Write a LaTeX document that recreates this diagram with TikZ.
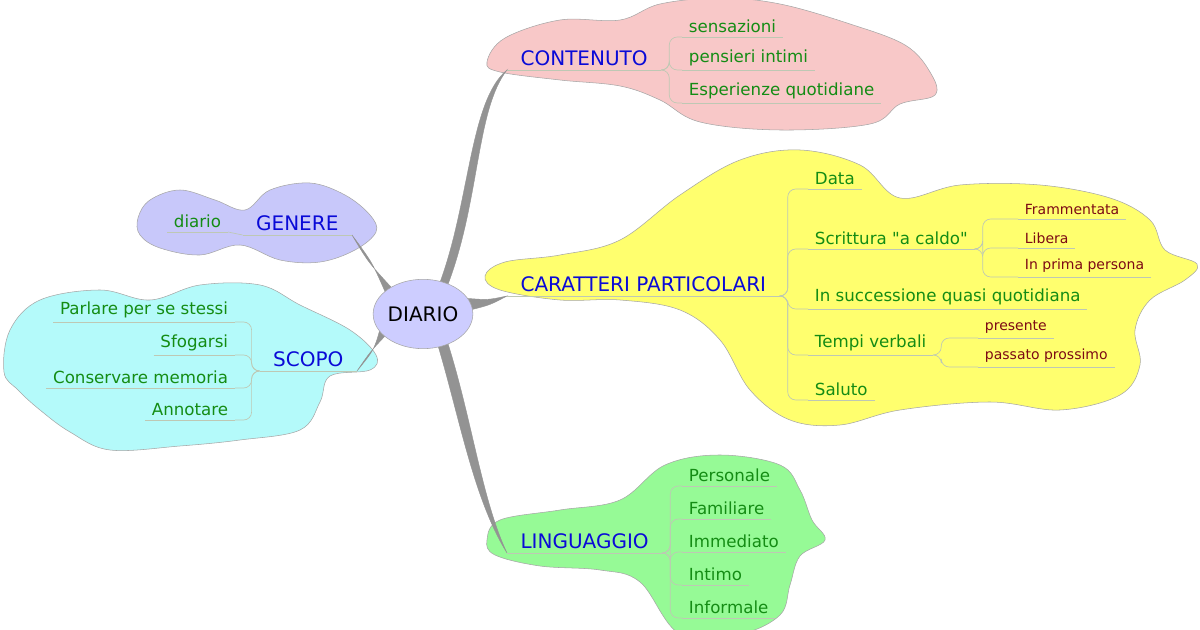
\documentclass[tikz,border=0pt]{standalone}
\usepackage{fontspec}
\setmainfont{DejaVu Sans}
\usetikzlibrary{positioning}
\usetikzlibrary{calc}
\usetikzlibrary{shapes.geometric}
\definecolor{mainblue}{RGB}{10,10,215}
\definecolor{subgreen}{RGB}{20,140,20}
\definecolor{subred}{RGB}{125,10,20}
\definecolor{ulgray}{RGB}{190,200,180}
\tikzset{
  main/.style={anchor=south west, inner xsep=10pt, inner ysep=3pt, text=mainblue, font=\fontsize{15}{17}\selectfont},
  sub/.style={anchor=south west, inner xsep=5pt, inner ysep=3pt, text=subgreen, font=\fontsize{12.5}{15}\selectfont},
  subl/.style={sub, anchor=south east},
  subsub/.style={anchor=south west, inner xsep=5pt, inner ysep=3pt, text=subred, font=\fontsize{10.5}{13}\selectfont},
  uline/.style={draw=ulgray, line width=0.5pt},
  branch/.style={fill=gray!85, draw=gray!85, line width=0.3pt},
  cloud/.style={draw=gray!70, line width=0.4pt},
  centre/.style={ellipse, inner sep=0pt, minimum width=72pt, minimum height=52pt, font=\fontsize{15}{17}\selectfont}
}
\begin{document}
\begin{tikzpicture}[x=0.75pt,y=-0.75pt]
	\useasboundingbox (0,0) rectangle (1200,630);
	
	% clouds
	\draw[cloud, fill={rgb,255:red,248;green,200;blue,200}] plot[smooth cycle, tension=0.6] coordinates {
		(487,62) (505,38) (560,20) (620,20) (660,4) (720,-2) (780,4) (850,24) (905,45) (930,72)
		(935,95) (900,104) (870,124) (780,130) (700,122) (660,100) (620,86) (560,80) (500,72)};
	\draw[cloud, fill={rgb,255:red,255;green,255;blue,110}] plot[smooth cycle, tension=0.6] coordinates {
		(485,276) (505,262) (560,255) (620,240) (680,195) (740,160) (800,150) (860,165) (900,198)
		(960,185) (1040,185) (1110,198) (1150,220) (1165,250) (1197,264) (1185,280) (1150,300)
		(1135,330) (1140,365) (1120,395) (1060,410) (990,402) (900,410) (840,425) (790,420)
		(750,390) (720,340) (680,310) (620,300) (560,300) (500,290)};
	\draw[cloud, fill={rgb,255:red,150;green,250;blue,150}] plot[smooth cycle, tension=0.6] coordinates {
		(487,540) (500,520) (560,510) (620,500) (665,465) (720,455) (780,465) (800,490)
		(812,520) (825,540) (800,556) (790,585) (780,615) (740,634) (680,634) (640,582)
		(600,570) (540,566) (495,555)};
	\draw[cloud, fill={rgb,255:red,200;green,200;blue,250}] plot[smooth cycle, tension=0.6] coordinates {
		(138,218) (150,200) (180,190) (215,200) (245,210) (270,190) (310,183) (345,195)
		(370,215) (376,232) (355,250) (320,262) (280,260) (240,245) (200,255) (160,248) (140,235)};
	\draw[cloud, fill={rgb,255:red,180;green,250;blue,250}] plot[smooth cycle, tension=0.6] coordinates {
		(4,372) (10,330) (40,300) (100,290) (150,300) (200,285) (260,285) (300,305) (350,330)
		(376,355) (370,370) (330,376) (320,402) (300,430) (240,440) (180,446) (110,450)
		(70,432) (40,410) (18,390)};
	
	% center and main topics
	\node[centre] (diario) at (423,314) {};
	\node[main] (contenuto) at (507,70) {CONTENUTO};
	\node[main] (caratteri) at (507,296) {CARATTERI PARTICOLARI};
	\node[main] (linguaggio) at (507,553) {LINGUAGGIO};
	\node[main, anchor=south east] (genere) at (352,235) {GENERE};
	\node[main, anchor=south east] (scopo) at (357,371) {SCOPO};
	
	% branches
	\fill[branch] (diario.62) .. controls (470,200) and (470,100) .. (contenuto.south west)
		.. controls (476,110) and (480,200) .. (diario.50) -- cycle;
	\fill[branch] (diario.20) .. controls (488,300) .. (caratteri.south west)
		.. controls (490,305) .. (diario.5) -- cycle;
	\fill[branch] (diario.-50) .. controls (472,420) and (482,500) .. (linguaggio.south west)
		.. controls (474,500) and (460,420) .. (diario.-65) -- cycle;
	\fill[branch] (diario.150) .. controls (372,262) .. (genere.south east)
		.. controls (368,262) .. (diario.140) -- cycle;
	\fill[branch] (diario.200) .. controls (374,350) .. (scopo.south east)
		.. controls (370,352) .. (diario.210) -- cycle;
	\node[centre, draw=gray!70, fill={rgb,255:red,205;green,205;blue,255}] (diariobox) at (diario) {DIARIO};
	
	% children
	\node[sub] (sens) at (682,37) {sensazioni};
	\node[sub] (pens) at (682,70) {pensieri intimi};
	\node[sub] (esp) at (682,103) {Esperienze quotidiane};
	
	\node[sub] (data) at (808,189) {Data};
	\node[sub] (scritt) at (808,249) {Scrittura \textquotedbl a caldo\textquotedbl};
	\node[sub] (succ) at (808,309) {In successione quasi quotidiana};
	\node[sub] (tempi) at (808,355) {Tempi verbali};
	\node[sub] (saluto) at (808,400) {Saluto};
	
	\node[subsub] (framm) at (1018,219) {Frammentata};
	\node[subsub] (libera) at (1018,248) {Libera};
	\node[subsub] (prima) at (1018,277) {In prima persona};
	\node[subsub] (pres) at (978,338) {presente};
	\node[subsub] (pass) at (978,367) {passato prossimo};
	
	\node[sub] (pers) at (682,486) {Personale};
	\node[sub] (fam) at (682,519) {Familiare};
	\node[sub] (imm) at (682,552) {Immediato};
	\node[sub] (int) at (682,585) {Intimo};
	\node[sub] (inf) at (682,618) {Informale};
	
	\node[subl] (dia) at (228,232) {diario};
	\node[subl] (parl) at (235,322) {Parlare per se stessi};
	\node[subl] (sfog) at (235,355) {Sfogarsi};
	\node[subl] (cons) at (235,388) {Conservare memoria};
	\node[subl] (ann) at (235,420) {Annotare};
	
	% underlines
	\foreach \n in {contenuto, caratteri, linguaggio, genere, scopo, sens, pens, esp, data, scritt,
	  succ, tempi, saluto, framm, libera, prima, pres, pass, pers, fam, imm, int, inf, dia, parl,
	  sfog, cons, ann}
		\draw[uline] (\n.south west) -- (\n.south east);
	
	% connectors
	\foreach \c in {sens, pens, esp}
		\draw[uline, rounded corners=6pt] (contenuto.south east) -- ++(8,0) |- (\c.south west);
	\foreach \c in {data, scritt, succ, tempi, saluto}
		\draw[uline, rounded corners=6pt] (caratteri.south east) -- ++(8,0) |- (\c.south west);
	\foreach \c in {framm, libera, prima}
		\draw[uline, rounded corners=6pt] (scritt.south east) -- ++(8,0) |- (\c.south west);
	\foreach \c in {pres, pass}
		\draw[uline, rounded corners=6pt] (tempi.south east) -- ++(8,0) |- (\c.south west);
	\foreach \c in {pers, fam, imm, int, inf}
		\draw[uline, rounded corners=6pt] (linguaggio.south east) -- ++(8,0) |- (\c.south west);
	\draw[uline, rounded corners=6pt] (genere.south west) -- (dia.south east);
	\foreach \c in {parl, sfog, cons, ann}
		\draw[uline, rounded corners=6pt] (scopo.south west) -- ++(-8,0) |- (\c.south east);
\end{tikzpicture}
\end{document}
